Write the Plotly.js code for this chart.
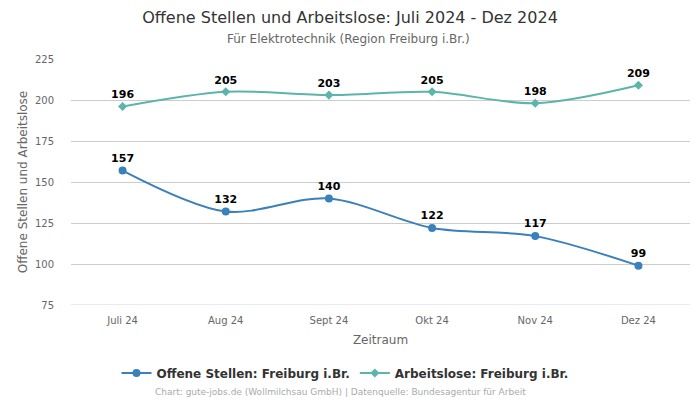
<!DOCTYPE html>
<html><head><meta charset="utf-8">
<script src="https://cdn.plot.ly/plotly-3.0.1.min.js"></script>
<style>body{margin:0;background:#fff}#c{width:700px;height:400px}</style>
</head><body><div id="c"></div>
<script>
var categories = ["Juli 24","Aug 24","Sept 24","Okt 24","Nov 24","Dez 24"];
var offeneStellen = [157,132,140,122,117,99];
var arbeitslose = [196,205,203,205,198,209];
var yTicks = [75,100,125,150,175,200,225];

var F = "DejaVu Sans, sans-serif";
var traces = [
  {x: categories, y: offeneStellen, name: "Offene Stellen: Freiburg i.Br.", type: "scatter", mode: "lines+markers+text",
   line: {color: "#3a80ba", width: 2, shape: "spline", smoothing: 0.9},
   marker: {color: "#3a80ba", size: 8, symbol: "circle"},
   text: offeneStellen.map(String), textposition: "top center",
   textfont: {family: F, size: 11, color: "#000", weight: "bold"}, cliponaxis: false},
  {x: categories, y: arbeitslose, name: "Arbeitslose: Freiburg i.Br.", type: "scatter", mode: "lines+markers+text",
   line: {color: "#5bb5aa", width: 2, shape: "spline", smoothing: 0.9},
   marker: {color: "#5bb5aa", size: 7, symbol: "diamond"},
   text: arbeitslose.map(String), textposition: "top center",
   textfont: {family: F, size: 11, color: "#000", weight: "bold"}, cliponaxis: false}
];
var L = 71, PW = 619;
function px(x) { return (x - L) / PW; }
var layout = {
  width: 700, height: 400,
  margin: {l: L, r: 10, t: 59, b: 95, autoexpand: false},
  paper_bgcolor: "#fff", plot_bgcolor: "#fff",
  font: {family: F, color: "#666"},
  title: {text: "Offene Stellen und Arbeitslose: Juli 2024 - Dez 2024", x: 0.5, xanchor: "center", yref: "container", y: 1 - 17/400, yanchor: "middle",
          font: {family: F, size: 16, color: "#333"}},
  annotations: [
    {text: "Für Elektrotechnik (Region Freiburg i.Br.)", xref: "paper", yref: "paper", x: px(348), y: 1, yshift: 20, xanchor: "center", yanchor: "middle", showarrow: false,
     font: {family: F, size: 12, color: "#666"}},
    {text: "Chart: gute-jobs.de (Wollmilchsau GmbH) | Datenquelle: Bundesagentur für Arbeit", xref: "paper", yref: "paper", x: px(340), xanchor: "center", y: 0, yshift: -87, yanchor: "middle", showarrow: false,
     font: {family: F, size: 9, color: "#aaa"}}
  ],
  xaxis: {type: "category", range: [-0.5, 5.5], showgrid: false, showline: false, zeroline: false,
          ticks: "outside", ticklen: 6, tickcolor: "rgba(0,0,0,0)",
          tickfont: {family: F, size: 10, color: "#666"},
          title: {text: "Zeitraum", font: {family: F, size: 12, color: "#666"}, standoff: 10}},
  yaxis: {range: [75, 225], tickvals: yTicks, showgrid: true, gridcolor: "#cccccc", zeroline: false, showline: false,
          tickfont: {family: F, size: 10, color: "#666"}, ticks: "outside", ticklen: 14, tickcolor: "rgba(0,0,0,0)",
          title: {text: "Offene Stellen und Arbeitslose", font: {family: F, size: 12, color: "#666"}, standoff: 4}},
  shapes: [{type: "line", xref: "paper", yref: "y", x0: 0, x1: 1, y0: 75, y1: 75, line: {color: "#ccd6eb", width: 1}}],
  legend: {orientation: "h", xref: "container", x: 345/700, xanchor: "center", yref: "container", y: 1 - 373/400, yanchor: "middle",
           itemwidth: 30, font: {family: F, size: 12, color: "#333", weight: "bold"}},
  showlegend: true
};
Plotly.newPlot("c", traces, layout, {displayModeBar: false, staticPlot: true});
</script></body></html>
